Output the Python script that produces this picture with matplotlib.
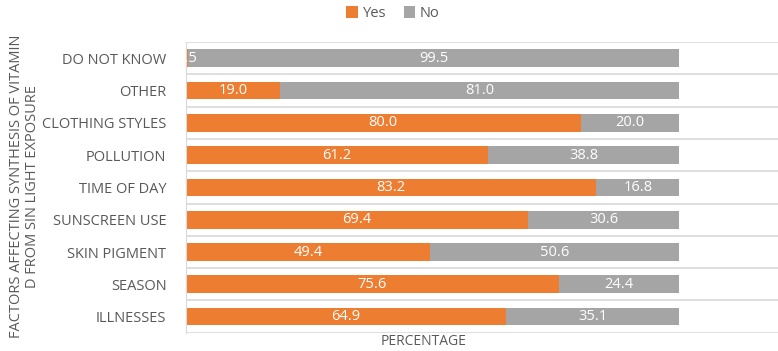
import numpy as np
import matplotlib.pyplot as plt

# Data (top to bottom)
categories = ['DO NOT KNOW', 'OTHER', 'CLOTHING STYLES', 'POLLUTION', 'TIME OF DAY',
              'SUNSCREEN USE', 'SKIN PIGMENT', 'SEASON', 'ILLNESSES']
yes_vals = [0.5, 19.0, 80.0, 61.2, 83.2, 69.4, 49.4, 75.6, 64.9]
no_vals = [99.5, 81.0, 20.0, 38.8, 16.8, 30.6, 50.6, 24.4, 35.1]

orange = '#ED7D31'
grey = '#A5A5A5'
text_grey = '#595959'

plt.rcParams['font.family'] = ['Open Sans', 'DejaVu Sans']

fig = plt.figure(figsize=(7.78, 3.51), dpi=100)
ax = fig.add_axes([0.239, 0.052, 0.761, 0.828])

y = np.arange(len(categories))[::-1]
h = 0.55
b1 = ax.barh(y, yes_vals, height=h, color=orange, label='Yes')
b2 = ax.barh(y, no_vals, left=yes_vals, height=h, color=grey, label='No')

for yi, v, n in zip(y, yes_vals, no_vals):
    ax.text(v / 2, yi, f'{v:.1f}', ha='center', va='center', color='white',
            fontsize=10.5, clip_on=True)
    ax.text(v + n / 2, yi, f'{n:.1f}', ha='center', va='center', color='white',
            fontsize=10.5, clip_on=True)

ax.set_xlim(0, 120)
ax.set_ylim(-0.5, len(categories) - 0.5)
ax.set_yticks(y)
ax.set_yticklabels(categories, fontsize=10.5, color=text_grey)
ax.tick_params(axis='y', length=0, pad=14)
ax.set_xticks([])

# category separators
for b in np.arange(-0.5, len(categories), 1.0):
    ax.axhline(b, color='#D9D9D9', lw=1.2, zorder=0)

for s in ['top', 'right', 'bottom']:
    ax.spines[s].set_visible(False)
ax.spines['left'].set_color('#D9D9D9')

fig.text(0.545, 0.028, 'PERCENTAGE', ha='center', va='center', fontsize=10, color=text_grey)
fig.text(0.012, 0.47, 'FACTORS AFFECTING SYNTHESIS OF VITAMIN\nD FROM SIN LIGHT EXPOSURE',
         rotation=90, ha='left', va='center', fontsize=10.5, color=text_grey,
         multialignment='center', linespacing=1.1)

fig.legend(handles=[b1, b2], loc='upper center', bbox_to_anchor=(0.505, 1.02), ncol=2,
           frameon=False, fontsize=10.5, handlelength=0.8, handleheight=0.8,
           columnspacing=1.2, handletextpad=0.3, labelcolor=text_grey)

plt.savefig('out.png', dpi=100)
